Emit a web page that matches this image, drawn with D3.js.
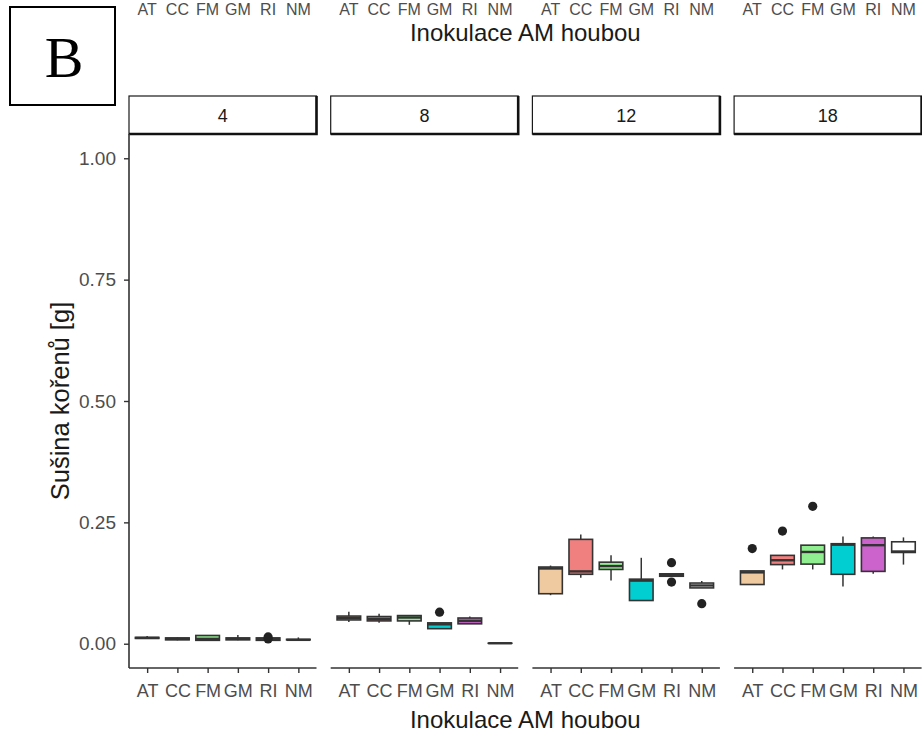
<!DOCTYPE html>
<html>
<head>
<meta charset="utf-8">
<script src="https://cdn.jsdelivr.net/npm/d3@7"></script>
<style>
  body { margin: 0; background: #fff; }
  svg { display: block; font-family: "Liberation Sans", Arial, sans-serif; }
</style>
</head>
<body>
<script>
// facet labels (days) and inoculation groups
const times = ["4", "8", "12", "18"];
const fungi = ["AT", "CC", "FM", "GM", "RI", "NM"];
const palette = ["#EFC9A0", "#F08080", "#90EE90", "#00CED1", "#CC62CC", "#FFFFFF"];
const yTicks = [0, 0.25, 0.5, 0.75, 1];

// five-number summaries [min, q1, median, q3, max] per fungus, one array per facet
const stats4 = [
  [0.011, 0.011, 0.012, 0.013, 0.016],
  [0.007, 0.008, 0.010, 0.012, 0.013],
  [0.007, 0.007, 0.010, 0.017, 0.017],
  [0.007, 0.008, 0.010, 0.012, 0.018],
  [0.006, 0.007, 0.010, 0.012, 0.013],
  [0.008, 0.008, 0.008, 0.009, 0.013]
];
const stats8 = [
  [0.045, 0.049, 0.053, 0.057, 0.066],
  [0.043, 0.047, 0.051, 0.056, 0.062],
  [0.039, 0.047, 0.054, 0.058, 0.058],
  [0.031, 0.031, 0.040, 0.043, 0.043],
  [0.041, 0.041, 0.047, 0.053, 0.056],
  [0.001, 0.001, 0.001, 0.001, 0.001]
];
const stats12 = [
  [0.100, 0.103, 0.155, 0.158, 0.161],
  [0.136, 0.143, 0.149, 0.215, 0.225],
  [0.130, 0.153, 0.160, 0.168, 0.182],
  [0.089, 0.089, 0.130, 0.133, 0.177],
  [0.139, 0.139, 0.142, 0.144, 0.144],
  [0.115, 0.115, 0.120, 0.125, 0.129]
];
const stats18 = [
  [0.122, 0.122, 0.147, 0.150, 0.150],
  [0.153, 0.163, 0.172, 0.182, 0.182],
  [0.153, 0.164, 0.189, 0.203, 0.203],
  [0.118, 0.143, 0.204, 0.206, 0.221],
  [0.144, 0.149, 0.203, 0.218, 0.221],
  [0.163, 0.188, 0.190, 0.210, 0.219]
];
// outliers per fungus
const out4 = [[], [], [], [], [0.014, 0.010], []];
const out8 = [[], [], [], [0.065], [], []];
const out12 = [[], [], [], [], [0.167, 0.127], [0.0825]];
const out18 = [[0.196], [0.232], [0.283], [], [], []];

const allStats = [stats4, stats8, stats12, stats18];
const allOut = [out4, out8, out12, out18];

const W = 922, H = 736;
const panelLeft = 129, panelW = 187.5, panelGap = 14.2;
const stripTop = 96, plotTop = 134, plotBottom = 668;
const ink = "#333333", tickText = "#4D4D4D";

const svg = d3.select("body").append("svg")
  .attr("width", W).attr("height", H);

const y = d3.scaleLinear().domain([-0.05, 1.05]).range([plotBottom, plotTop]);

// remnants of the panel above
times.forEach(function(t, i) {
  const x0 = panelLeft + i * (panelW + panelGap);
  const xs = d3.scalePoint().domain(fungi).range([x0, x0 + panelW]).padding(0.6);
  svg.append("g").selectAll("text").data(fungi).enter().append("text")
    .attr("x", d => xs(d)).attr("y", 15)
    .attr("text-anchor", "middle").attr("font-size", 16).attr("fill", tickText)
    .text(d => d);
});
svg.append("text")
  .attr("x", panelLeft + (4 * panelW + 3 * panelGap) / 2).attr("y", 41)
  .attr("text-anchor", "middle").attr("font-size", 24).attr("fill", "#1a1a1a")
  .text("Inokulace AM houbou");

// panel tag
svg.append("rect").attr("x", 10).attr("y", 7).attr("width", 105).attr("height", 98)
  .attr("fill", "#fff").attr("stroke", "#000").attr("stroke-width", 2);
svg.append("text").attr("x", 64).attr("y", 77).attr("text-anchor", "middle")
  .attr("font-family", "'Liberation Serif', 'Times New Roman', serif")
  .attr("font-size", 58).attr("fill", "#000").text("B");

times.forEach(function(t, i) {
  const x0 = panelLeft + i * (panelW + panelGap);
  const x = d3.scalePoint().domain(fungi).range([x0, x0 + panelW]).padding(0.6);
  const bw = x.step() * 0.78;
  const g = svg.append("g").attr("class", "panel");

  // strip
  g.append("rect").attr("x", x0).attr("y", stripTop).attr("width", panelW)
    .attr("height", plotTop - stripTop).attr("fill", "#fff")
    .attr("stroke", "#1a1a1a").attr("stroke-width", 1.2);
  g.append("path")
    .attr("d", "M" + (x0 + panelW) + "," + stripTop + "V" + plotTop + "H" + x0)
    .attr("fill", "none").attr("stroke", "#111").attr("stroke-width", 2.6);
  g.append("text").attr("x", x0 + panelW / 2).attr("y", (stripTop + plotTop) / 2 + 6.5)
    .attr("text-anchor", "middle").attr("font-size", 18).attr("fill", "#1a1a1a")
    .text(t);

  // boxes
  const st = allStats[i], ou = allOut[i];
  fungi.forEach(function(f, j) {
    const s = st[j], cx = x(f);
    const bx = g.append("g");
    bx.append("line").attr("x1", cx).attr("x2", cx)
      .attr("y1", y(s[4])).attr("y2", y(s[3]))
      .attr("stroke", ink).attr("stroke-width", 1.5);
    bx.append("line").attr("x1", cx).attr("x2", cx)
      .attr("y1", y(s[1])).attr("y2", y(s[0]))
      .attr("stroke", ink).attr("stroke-width", 1.5);
    bx.append("rect").attr("x", cx - bw / 2).attr("width", bw)
      .attr("y", y(s[3])).attr("height", Math.max(0.01, y(s[1]) - y(s[3])))
      .attr("fill", palette[j]).attr("stroke", ink).attr("stroke-width", 1.6);
    bx.append("line").attr("x1", cx - bw / 2).attr("x2", cx + bw / 2)
      .attr("y1", y(s[2])).attr("y2", y(s[2]))
      .attr("stroke", ink).attr("stroke-width", 2.4);
    bx.selectAll("circle").data(ou[j]).enter().append("circle")
      .attr("cx", cx).attr("cy", d => y(d)).attr("r", 4.6)
      .attr("fill", "#222");
  });

  // x axis
  const xa = g.append("g").attr("transform", "translate(0," + plotBottom + ")")
    .call(d3.axisBottom(x).tickSizeOuter(0).tickSize(5).tickPadding(11));
  xa.select(".domain").attr("d", "M" + x0 + ",0H" + (x0 + panelW))
    .attr("stroke", ink).attr("stroke-width", 1.6);
  xa.selectAll(".tick line").attr("stroke", ink).attr("stroke-width", 1.4);
  xa.selectAll(".tick text").attr("font-size", 18).attr("fill", tickText)
    .attr("font-family", "'Liberation Sans', Arial, sans-serif");

  if (i === 0) {
    const ya = g.append("g").attr("transform", "translate(" + x0 + ",0)")
      .call(d3.axisLeft(y).tickValues(yTicks).tickFormat(d3.format(".2f"))
        .tickSizeOuter(0).tickSize(5).tickPadding(8));
    ya.select(".domain").attr("d", "M0," + plotTop + "V" + plotBottom)
      .attr("stroke", ink).attr("stroke-width", 1.6);
    ya.selectAll(".tick line").attr("stroke", ink).attr("stroke-width", 1.4);
    ya.selectAll(".tick text").attr("font-size", 19).attr("fill", tickText)
      .attr("font-family", "'Liberation Sans', Arial, sans-serif");
  }
});

// axis titles
svg.append("text")
  .attr("x", panelLeft + (4 * panelW + 3 * panelGap) / 2).attr("y", 728)
  .attr("text-anchor", "middle").attr("font-size", 24).attr("fill", "#1a1a1a")
  .text("Inokulace AM houbou");
svg.append("text")
  .attr("transform", "translate(69," + (plotTop + plotBottom) / 2 + ") rotate(-90)")
  .attr("text-anchor", "middle").attr("font-size", 25.5).attr("fill", "#1a1a1a")
  .text("Sušina kořenů [g]");
</script>
</body>
</html>
